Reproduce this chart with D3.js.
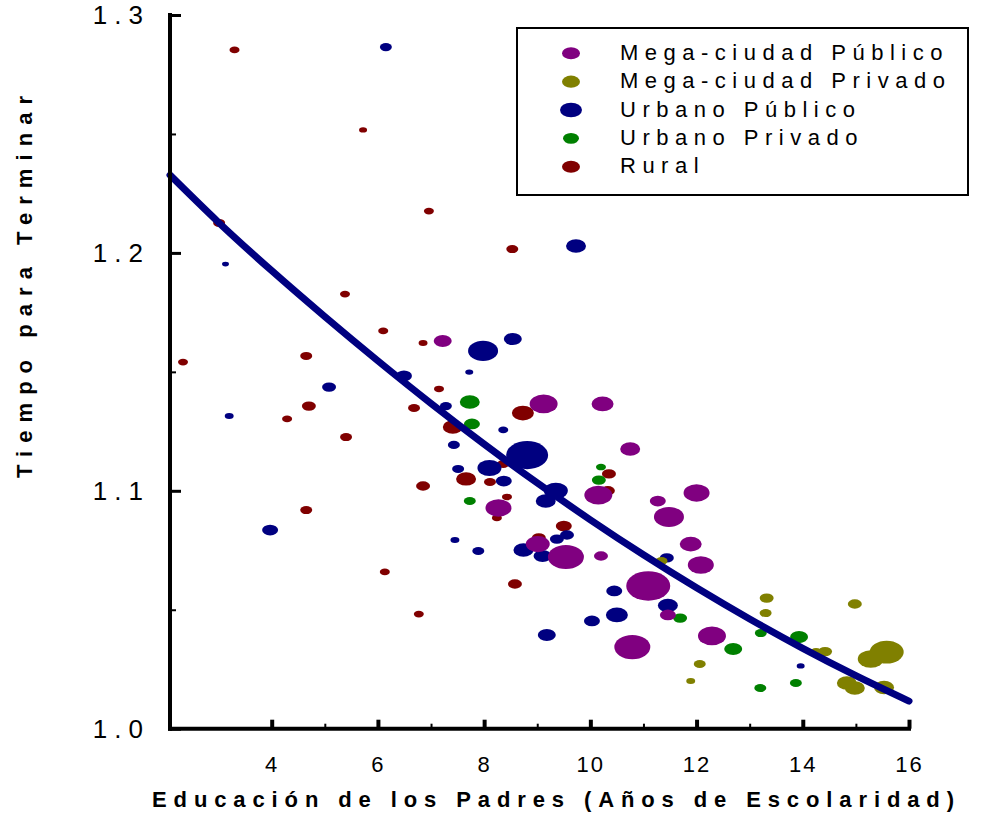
<!DOCTYPE html>
<html>
<head>
<meta charset="utf-8">
<script src="https://cdn.jsdelivr.net/npm/d3@7"></script>
<style>
  html, body { margin: 0; padding: 0; background: #fff; }
  svg text { font-family: "Liberation Sans", Arial, sans-serif; }
</style>
</head>
<body>
<svg id="chart" width="981" height="816"></svg>
<script>
// Series: years of parental schooling (edu), time to finish (tiempo), school weight (n)
const megaPublicoEdu    = [7.22, 9.12, 10.23, 10.75, 8.27, 10.15, 11.27, 11.48, 12.00, 9.01, 9.54, 10.20, 11.09, 11.46, 10.79, 11.89, 12.08, 12.29];
const megaPublicoTiempo = [1.1630, 1.1365, 1.1365, 1.1176, 1.0928, 1.0982, 1.0957, 1.0890, 1.0991, 1.0776, 1.0722, 1.0726, 1.0600, 1.0478, 1.0343, 1.0776, 1.0688, 1.0390];
const megaPublicoN      = [81, 196, 121, 100, 169, 196, 64, 225, 169, 144, 324, 49, 484, 64, 324, 121, 169, 196];

const megaPrivadoEdu    = [11.34, 12.06, 11.89, 13.32, 13.30, 14.98, 14.42, 14.25, 15.58, 15.28, 14.83, 14.98, 15.53];
const megaPrivadoTiempo = [1.0705, 1.0272, 1.0200, 1.0549, 1.0486, 1.0524, 1.0324, 1.0322, 1.0322, 1.0293, 1.0192, 1.0171, 1.0173];
const megaPrivadoN      = [36, 36, 20, 49, 36, 49, 49, 36, 289, 169, 100, 100, 100];

const urbanoPublicoEdu    = [6.15, 3.13, 5.08, 6.49, 3.20, 3.97, 9.73, 7.98, 8.54, 7.72, 7.28, 8.36, 7.43, 8.81, 8.10, 7.51, 8.37, 9.35, 9.16, 7.45, 7.89, 8.74, 9.10, 9.37, 9.56, 10.45, 10.50, 10.03, 9.18, 11.46, 11.44, 13.96];
const urbanoPublicoTiempo = [1.2865, 1.1953, 1.1436, 1.1483, 1.1314, 1.0835, 1.2029, 1.1588, 1.1638, 1.1499, 1.1356, 1.1256, 1.1193, 1.1150, 1.1096, 1.1092, 1.1041, 1.1000, 1.0957, 1.0793, 1.0747, 1.0751, 1.0726, 1.0797, 1.0814, 1.0579, 1.0478, 1.0453, 1.0394, 1.0518, 1.0718, 1.0264];
const urbanoPublicoN      = [36, 12, 49, 64, 20, 64, 100, 225, 81, 16, 36, 25, 36, 441, 144, 36, 64, 144, 100, 20, 36, 100, 81, 49, 49, 64, 121, 64, 81, 100, 49, 16];

const urbanoPrivadoEdu    = [7.73, 7.77, 7.73, 10.20, 10.16, 11.69, 12.69, 13.21, 13.93, 13.87, 13.20];
const urbanoPrivadoTiempo = [1.1373, 1.1281, 1.0957, 1.1100, 1.1045, 1.0465, 1.0335, 1.0402, 1.0385, 1.0192, 1.0171];
const urbanoPrivadoN      = [100, 64, 36, 25, 49, 49, 81, 36, 81, 36, 36];

const ruralEdu    = [3.30, 5.72, 6.96, 3.01, 8.53, 5.38, 6.10, 6.85, 2.33, 4.65, 7.15, 4.70, 4.29, 6.68, 5.40, 6.85, 4.65, 6.13, 6.77, 7.41, 8.73, 7.66, 8.11, 8.36, 8.43, 8.24, 9.50, 9.03, 8.58, 10.35, 10.33];
const ruralTiempo = [1.2853, 1.2517, 1.2176, 1.2126, 1.2016, 1.1827, 1.1672, 1.1621, 1.1541, 1.1567, 1.1428, 1.1356, 1.1302, 1.1348, 1.1226, 1.1020, 1.0919, 1.0659, 1.0482, 1.1268, 1.1327, 1.1050, 1.1037, 1.1113, 1.0974, 1.0886, 1.0852, 1.0802, 1.0608, 1.1071, 1.1000];
const ruralN      = [25, 16, 25, 36, 36, 25, 25, 20, 25, 36, 25, 49, 25, 36, 36, 49, 36, 25, 25, 100, 121, 100, 36, 36, 25, 25, 64, 49, 49, 49, 49];

// Fitted curve (predicted time to finish)
const ajusteEdu    = [2.085, 3, 4, 5, 6, 7, 8, 9, 10, 11, 12, 13, 14, 15, 16];
const ajusteTiempo = [1.2327, 1.2128, 1.1925, 1.1732, 1.1546, 1.1367, 1.1196, 1.1033, 1.0878, 1.0731, 1.0592, 1.0461, 1.0338, 1.0223, 1.0116];

// Legend entries and colours
const grupos  = ["Mega-ciudad Público", "Mega-ciudad Privado", "Urbano Público", "Urbano Privado", "Rural"];
const colores = ["#800080", "#808000", "#000080", "#008000", "#800000"];
const legendN = [81, 81, 121, 64, 81];

// Axis ticks
const xMajor = [4, 6, 8, 10, 12, 14, 16];
const xMinor = [5, 7, 9, 11, 13, 15];
const yMajor = [1.0, 1.1, 1.2, 1.3];
const yMinor = [1.05, 1.15, 1.25];

const svg = d3.select("#chart");

const x = d3.scaleLinear().domain([2.085, 16]).range([170, 909]);
const y = d3.scaleLinear().domain([1.0, 1.3]).range([728.7, 15]);
const r = d3.scaleSqrt().domain([0, 484]).range([0, 22]);
const ASPECT = 0.67;

function series(edu, t, n) {
  return edu.map((e, i) => ({ e, t: t[i], n: n[i] }));
}

// Drawing order: rural first, mega-city private last
const capas = [
  { data: series(ruralEdu, ruralTiempo, ruralN), color: colores[4] },
  { data: series(urbanoPublicoEdu, urbanoPublicoTiempo, urbanoPublicoN), color: colores[2] },
  { data: series(urbanoPrivadoEdu, urbanoPrivadoTiempo, urbanoPrivadoN), color: colores[3] },
  { data: series(megaPublicoEdu, megaPublicoTiempo, megaPublicoN), color: colores[0] },
  { data: series(megaPrivadoEdu, megaPrivadoTiempo, megaPrivadoN), color: colores[1] }
];

const puntos = svg.append("g");
capas.forEach(c => {
  puntos.append("g")
    .selectAll("ellipse")
    .data(c.data)
    .join("ellipse")
    .attr("cx", d => x(d.e))
    .attr("cy", d => y(d.t))
    .attr("rx", d => r(d.n))
    .attr("ry", d => r(d.n) * ASPECT)
    .attr("fill", c.color);
});

// Fitted curve
const linea = d3.line()
  .x((d, i) => x(ajusteEdu[i]))
  .y(d => y(d))
  .curve(d3.curveMonotoneX);
svg.append("path")
  .attr("d", linea(ajusteTiempo))
  .attr("fill", "none")
  .attr("stroke", "#000080")
  .attr("stroke-width", 7)
  .attr("stroke-linecap", "round")
  .attr("stroke-linejoin", "round");

// Y axis
const yAxis = svg.append("g").attr("transform", "translate(170,0)");
yAxis.call(d3.axisLeft(y).tickValues(yMajor).tickSize(-11).tickSizeOuter(0)
  .tickPadding(20).tickFormat(d3.format(".1f")));
yAxis.select(".domain").remove();
yAxis.selectAll(".tick line").attr("stroke", "#000").attr("stroke-width", 3);
yAxis.selectAll(".tick text")
  .attr("fill", "#000")
  .style("font-size", "26px")
  .style("letter-spacing", "7px");
const yAxisMinor = svg.append("g").attr("transform", "translate(170,0)");
yAxisMinor.call(d3.axisLeft(y).tickValues(yMinor).tickSize(-6).tickSizeOuter(0).tickFormat(""));
yAxisMinor.select(".domain").remove();
yAxisMinor.selectAll(".tick line").attr("stroke", "#000").attr("stroke-width", 2);

// X axis
const xAxis = svg.append("g").attr("transform", "translate(0,728.7)");
xAxis.call(d3.axisBottom(x).tickValues(xMajor).tickSize(-9).tickSizeOuter(0)
  .tickPadding(28).tickFormat(d3.format("d")));
xAxis.select(".domain").remove();
xAxis.selectAll(".tick line").attr("stroke", "#000").attr("stroke-width", 4);
xAxis.selectAll(".tick text")
  .attr("fill", "#000")
  .style("font-size", "22px")
  .style("letter-spacing", "2px");
const xAxisMinor = svg.append("g").attr("transform", "translate(0,728.7)");
xAxisMinor.call(d3.axisBottom(x).tickValues(xMinor).tickSize(-5).tickSizeOuter(0).tickFormat(""));
xAxisMinor.select(".domain").remove();
xAxisMinor.selectAll(".tick line").attr("stroke", "#000").attr("stroke-width", 2);

// Axis lines
svg.append("line")
  .attr("x1", x.range()[0]).attr("x2", x.range()[0])
  .attr("y1", y(1.3) - 2).attr("y2", y(1.0) + 2)
  .attr("stroke", "#000").attr("stroke-width", 4);
svg.append("line")
  .attr("x1", x.range()[0] - 2).attr("x2", x(16) + 2)
  .attr("y1", y(1.0)).attr("y2", y(1.0))
  .attr("stroke", "#000").attr("stroke-width", 4);

// Axis titles
svg.append("text")
  .attr("x", 152).attr("y", 807)
  .attr("textLength", 802).attr("lengthAdjust", "spacing")
  .style("font-size", "22px").style("font-weight", "bold")
  .text("Educación de los Padres (Años de Escolaridad)");
svg.append("text")
  .attr("transform", "translate(32,478) rotate(-90)")
  .attr("textLength", 382).attr("lengthAdjust", "spacing")
  .style("font-size", "22px").style("font-weight", "bold")
  .text("Tiempo para Terminar");

// Legend
const leg = svg.append("g");
leg.append("rect")
  .attr("x", 517).attr("y", 28).attr("width", 451).attr("height", 167)
  .attr("fill", "#fff").attr("stroke", "#000").attr("stroke-width", 2);
const filas = leg.selectAll("g.fila")
  .data(grupos)
  .join("g")
  .attr("class", "fila")
  .attr("transform", (d, i) => `translate(0,${53.3 + i * 28.35})`);
filas.append("ellipse")
  .attr("cx", 571).attr("cy", 0)
  .attr("rx", (d, i) => r(legendN[i]))
  .attr("ry", (d, i) => r(legendN[i]) * ASPECT)
  .attr("fill", (d, i) => colores[i]);
filas.append("text")
  .attr("x", 620).attr("y", 6.5)
  .style("font-size", "22px")
  .style("letter-spacing", "6.5px")
  .text(d => d);
</script>
</body>
</html>
